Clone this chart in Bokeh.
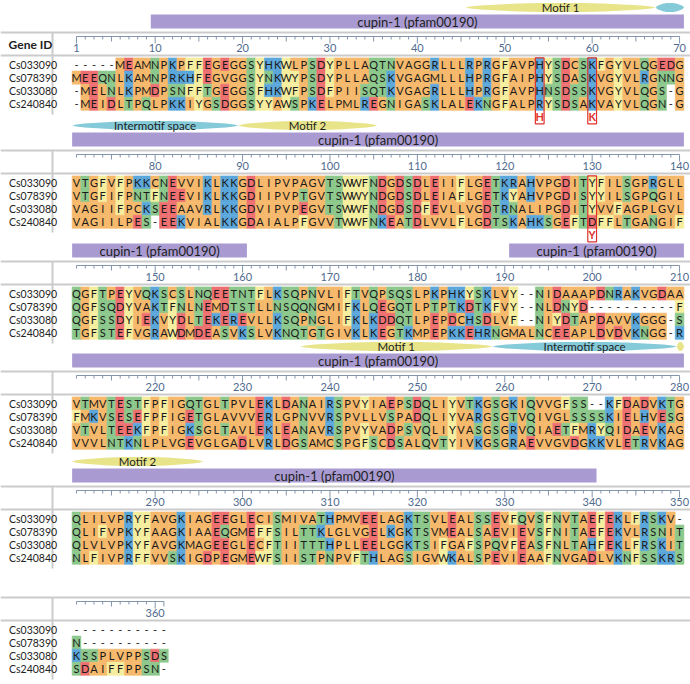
import math
from bokeh.plotting import figure
from bokeh.models import Range1d, ColumnDataSource
from bokeh.embed import file_html
from bokeh.resources import INLINE
from bokeh.core.properties import value

# ---------------- data ----------------
gene_ids = ["Cs033090", "Cs078390", "Cs033080", "Cs240840"]

seq_cs033090 = (
    "-----MEAMNPKPFFEGEGGSYHKWLPSDYPLLAQTNVAGGRLLLRPRGFAVPHYSDCSKFGYVLQGEDG"
    "VTGFVFPKKCNEVVIKLKKGDLIPVPAGVTSWWFNDGDSDLEIIFLGETKRAHVPGDITYFILSGPRGLL"
    "QGFTPEYVQKSCSLNQEETNTFLKSQPNVLIFTVQPSQSLPKPHKYSKLVY--NIDAAAPDNRAKVGDAA"
    "VTMVTESTFPFIGQTGLTPVLEKLDANAIRSPVYIAEPSDQLIYVTKGSGKIQVVGFSS--KFDADVKTG"
    "QLILVPRYFAVGKIAGEEGLECISMIVATHPMVEELAGKTSVLEALSSEVFQVSFNVTAEFEKLFRSKV-"
    "-----------"
)
seq_cs078390 = (
    "MEEQNLKAMNPRKHFEGVGGSYNKWYPSDYPLLAQSKVGAGMLLLHPRGFAIPHYSDASKVGYVLRGNNG"
    "VTGFIFPNTFNEEVIKLKKGDIIPVPTGVTSWWYNDGDSDLEIAFLGETKYAHVPGDISYYILSGPQGIL"
    "QGFSQDYVAKTFNLNEMDTSTLLNSQQNGMIFKLQEGQTLPTPTKDTKFVY--NLDNYD----------F"
    "FMKVSESEFPFIGETGLAVVVERLGPNVVRSPVLLVSPADQLIYVARGSGTVQIVGLSSSSKIELHVESG"
    "QLIFVPKYFAAGKIAAEQGMEFFSILTTKLGLVGELKGKTSVMEALSAEVIEVSFNITAEFEKVLRSNIT"
    "N----------"
)
seq_cs033080 = (
    "-MELNLKPMDPSNFFTGEGGSFHKWFPSDFPIISQTKVGAGRLLLHPRGFAVPHNSDSSKVGYVLQGS-G"
    "VAGIIFPCKSEEAAVRLKKGDVIPVPEGVTSWWFNDGDSDFEVLLVGDTRNALIPGDITYVVFAGPLGVL"
    "QGFSSDYIEKVYDLTEKEREVLLKSQPNGLIFKLKDDQTLPEPDCHSDLVF--NIYDTAPDAVVKGGG-S"
    "VTVLTEEKFPFIGKSGLTAVLEKLEANAVRSPVYVADPSVQLIYVASGSGRVQIAETFMRYQIDAEVKAG"
    "QLVLVPKYFAVGKMAGEEGLECFTIITTTHPLLEELGGKTSIFGAFSPQVFEASFNLTAHFEKLFRSKIT"
    "KSSPLVPPSDS"
)
seq_cs240840 = (
    "-MEIDLTPQLPKKIYGSDGGSYYAWSPKELPMLREGNIGASKLALEKNGFALPRYSDSAKVAYVLQGN-G"
    "VAGIILPES-EEKVIALKKGDAIALPFGVVTWWFNKEATDLVVLFLGDTSKAHKSGEFTDFFLTGANGIF"
    "TGFSTEFVGRAWDMDEASVKSLVKNQTGTGIVKLKEGTKMPEPKKEHRNGMALNCEEAPLDVDVKNGG-R"
    "VVVLNTKNLPLVGEVGLGADLVRLDGSAMCSPGFSCDSALQVTYIVKGSGRAEVVGVDGKKVLETRVKAG"
    "NLFIVPRFFVVSKIGDPEGMEWFSIISTPNPVFTHLAGSIGVWKALSPEVIEAAFNVGADLVKNFSSKRS"
    "SDAIFFPPSN-"
)
sequences = [seq_cs033090, seq_cs078390, seq_cs033080, seq_cs240840]

domain_label = "cupin-1 (pfam00190)"
domain_starts = [9.5, 190.5]
domain_ends = [160.5, 340.5]

motif_names = ["Motif 1", "Intermotif space", "Motif 2", "Motif 1", "Intermotif space", "Motif 2"]
motif_kinds = ["motif", "space", "motif", "motif", "space", "motif"]
motif_starts = [45.5, 67.3, 89.5, 236.6, 258.6, 279.7]
motif_ends = [67.3, 89.5, 105.4, 258.6, 279.7, 295.5]

site_positions = [54, 60, 130]
site_labels = ["H", "K", "Y"]

# ---------------- styling / layout ----------------
FONT = "Lato"
BLOCK = 70
W, H = 690, 684
COL1_X = 76.0
COL_W = 8.74
block_tops = [32, 150, 261, 371, 486, 597]
ROW_DY = 13.1
ROW0 = 32
GRAY = "#cbcbcb"

colors = {}
for a in "AVLIMGPC":
    colors[a] = "#f6b96b"
for a in "FWY":
    colors[a] = "#f6ee9f"
for a in "KRH":
    colors[a] = "#5ba7dc"
for a in "DE":
    colors[a] = "#ee6f70"
for a in "STNQ":
    colors[a] = "#8cc88c"
MOTIF_COL = {"motif": "#e8e48a", "space": "#84cad8"}


def sx(px):
    return 1 + (px - COL1_X) / COL_W


p = figure(width=W, height=H, x_range=Range1d(sx(0), sx(W)),
           y_range=Range1d(H, 0), output_backend="svg",
           toolbar_location=None, min_border=0)
p.xaxis.visible = False
p.yaxis.visible = False
p.xgrid.visible = False
p.ygrid.visible = False
p.outline_line_color = None
p.background_fill_color = "white"

L = len(seq_cs033090)
nblocks = int(math.ceil(L / BLOCK))

cx, cy, cc = [], [], []
tx, ty, tt = [], [], []
for b in range(nblocks):
    T = block_tops[b]
    for r, s in enumerate(sequences):
        chunk = s[b * BLOCK:(b + 1) * BLOCK]
        y = T + ROW0 + r * ROW_DY
        for i, ch in enumerate(chunk):
            x = i + 1
            if ch in colors:
                cx.append(x); cy.append(y); cc.append(colors[ch])
            tx.append(x); ty.append(y); tt.append(ch)

cells = ColumnDataSource(dict(x=cx, y=cy, c=cc))
p.rect(x="x", y="y", width=1, height=ROW_DY, fill_color="c", line_color="c",
       line_width=0.6, source=cells)
letters = ColumnDataSource(dict(x=tx, y=ty, t=tt))
p.text(x="x", y="y", text="t", source=letters, text_font=value(FONT),
       text_font_size="11px", text_align="center", text_baseline="middle",
       text_color="#1a1a1a")

# separators, gene ids, rulers
sep_x0, sep_x1, sep_y0, sep_y1 = [], [], [], []
gid_x, gid_y, gid_t = [], [], []
tk_x0, tk_y0, tk_x1, tk_y1 = [], [], [], []
rl_x, rl_y, rl_t = [], [], []
for b in range(nblocks):
    T = block_tops[b]
    ncol = min(BLOCK, L - b * BLOCK)
    for yy in (T, T + 23):
        sep_x0.append(sx(0)); sep_x1.append(sx(W)); sep_y0.append(yy); sep_y1.append(yy)
    sep_x0.append(sx(52)); sep_x1.append(sx(52)); sep_y0.append(T); sep_y1.append(T + 82)
    for r, g in enumerate(gene_ids):
        gid_x.append(sx(8.5)); gid_y.append(T + ROW0 + r * ROW_DY); gid_t.append(g)
    tk_x0.append(1); tk_x1.append(ncol); tk_y0.append(T + 4); tk_y1.append(T + 4)
    for i in range(ncol):
        pos = b * BLOCK + i + 1
        if pos % 10 == 0 or pos == 1:
            ln = 7
            rl_x.append(i + 1); rl_y.append(T + 15); rl_t.append(str(pos))
        elif pos % 5 == 0:
            ln = 5
        else:
            ln = 3
        if i == ncol - 1:
            ln = max(ln, 5)
        tk_x0.append(i + 1); tk_x1.append(i + 1); tk_y0.append(T + 4); tk_y1.append(T + 4 + ln)

p.segment(x0=sep_x0, y0=sep_y0, x1=sep_x1, y1=sep_y1, line_color=GRAY, line_width=2)
p.segment(x0=tk_x0, y0=tk_y0, x1=tk_x1, y1=tk_y1, line_color="#8595ab", line_width=1)
p.text(x=rl_x, y=rl_y, text=rl_t, text_font=value(FONT), text_font_size="11px",
       text_align="center", text_baseline="middle", text_color="#4f6b8f")
p.text(x=gid_x, y=gid_y, text=gid_t, text_font=value(FONT), text_font_size="10.5px",
       text_align="left", text_baseline="middle", text_color="#222222")
p.text(x=[sx(30)], y=[block_tops[0] + 11.5], text=["Gene ID"], text_font=value(FONT),
       text_font_size="12px", text_font_style="bold", text_align="center",
       text_baseline="middle", text_color="#222222")

# domain bars
dq_l, dq_r, dq_t, dq_b = [], [], [], []
dl_x, dl_y = [], []
for b in range(nblocks):
    T = block_tops[b]
    lo, hi = b * BLOCK + 0.5, b * BLOCK + BLOCK + 0.5
    for s0, s1 in zip(domain_starts, domain_ends):
        a0, a1 = max(s0, lo), min(s1, hi)
        if a1 - a0 > 0.5:
            x0, x1 = a0 - b * BLOCK, a1 - b * BLOCK
            dq_l.append(x0); dq_r.append(x1); dq_t.append(T - 18); dq_b.append(T - 4)
            dl_x.append((x0 + x1) / 2); dl_y.append(T - 11)
p.quad(left=dq_l, right=dq_r, top=dq_t, bottom=dq_b, fill_color="#a99bd1",
       line_color=None)
p.text(x=dl_x, y=dl_y, text=[domain_label] * len(dl_x), text_font=value(FONT),
       text_font_size="13px", text_align="center", text_baseline="middle",
       text_color="#1e1e1e")

# motif lenses
mx, my, mc = [], [], []
ml_x, ml_y, ml_t = [], [], []
for b in range(nblocks):
    T = block_tops[b]
    lo, hi = b * BLOCK + 0.5, b * BLOCK + BLOCK + 0.5
    for name, kind, s0, s1 in zip(motif_names, motif_kinds, motif_starts, motif_ends):
        a0, a1 = max(s0, lo), min(s1, hi)
        if a1 - a0 <= 0.2:
            continue
        x0, x1 = a0 - b * BLOCK, a1 - b * BLOCK
        n = 40
        xs_top, ys_top = [], []
        for k in range(n + 1):
            t = k / n
            xs_top.append(x0 + (x1 - x0) * t)
            ys_top.append(T - 25 - 4.6 * (math.sin(math.pi * t) ** 0.6))
        xs_bot = xs_top[::-1]
        ys_bot = [2 * (T - 25) - v for v in ys_top][::-1]
        mx.append(xs_top + xs_bot); my.append(ys_top + ys_bot); mc.append(MOTIF_COL[kind])
        if x1 - x0 > 8:
            ml_x.append((x0 + x1) / 2); ml_y.append(T - 25); ml_t.append(name)
p.patches(xs=mx, ys=my, fill_color=mc, line_color=None)
p.text(x=ml_x, y=ml_y, text=ml_t, text_font=value(FONT), text_font_size="11.5px",
       text_align="center", text_baseline="middle", text_color="#1e1e1e")

# highlighted sites
sb_l, sb_r, sb_t, sb_b, sl_x, sl_y = [], [], [], [], [], []
for pos in site_positions:
    b = (pos - 1) // BLOCK
    T = block_tops[b]
    x = pos - b * BLOCK
    sb_l.append(x - 0.5); sb_r.append(x + 0.5)
    sb_t.append(T + ROW0 - ROW_DY / 2); sb_b.append(T + ROW0 + 3 * ROW_DY + 20)
    sl_x.append(x); sl_y.append(T + ROW0 + 3 * ROW_DY + 13)
p.quad(left=sb_l, right=sb_r, top=sb_t, bottom=sb_b, fill_color=None,
       line_color="#e0312c", line_width=1.2)
p.text(x=sl_x, y=sl_y, text=site_labels, text_font=value(FONT), text_font_size="11px",
       text_font_style="bold", text_align="center", text_baseline="middle",
       text_color="#e0312c")

open("out.html", "w").write(file_html(p, INLINE))
